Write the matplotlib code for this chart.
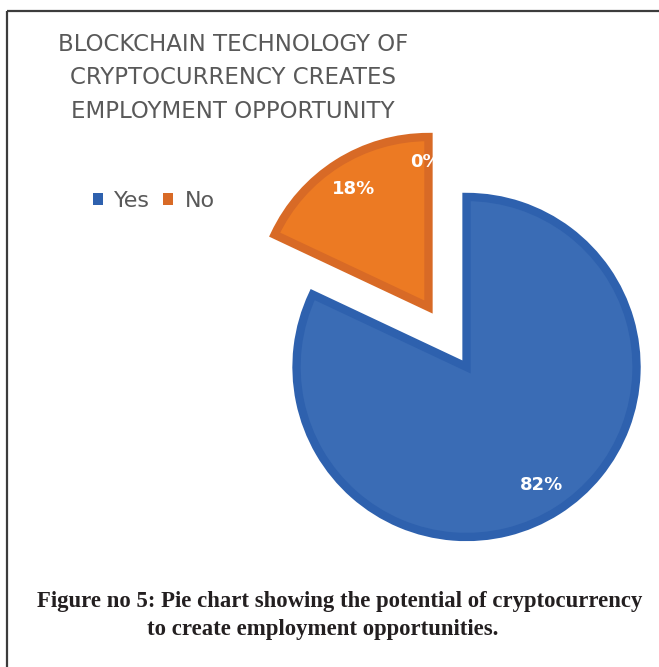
import matplotlib.pyplot as plt
from matplotlib.patches import Patch, Rectangle

categories = ["Yes", "No", ""]
shares = [82, 18, 0]
slice_colors = ["#3A6CB5", "#EC7A23", "#A5A5A5"]
edge_colors = ["#2E61AE", "#D86A26", "#A5A5A5"]

title = "BLOCKCHAIN TECHNOLOGY OF\nCRYPTOCURRENCY CREATES\nEMPLOYMENT OPPORTUNITY"
caption_1 = "Figure no 5: Pie chart showing the potential of cryptocurrency"
caption_2 = "to create employment opportunities."

W, H = 659, 667
fig = plt.figure(figsize=(W / 100, H / 100), dpi=100)
fig.patch.set_facecolor("white")

# axes in pixel units so the pie can sit anywhere on the page
ax = fig.add_axes([0, 0, 1, 1])
ax.axis("off")

cx, cy, r = 447.5, H - 337, 170
lw = 6
wedges, _, pct = ax.pie(
    shares, center=(cx, cy), radius=r, startangle=90, counterclock=False,
    explode=[35.5, 35.5, 35.5], colors=slice_colors,
    autopct="%1.0f%%", pctdistance=0.82,
    wedgeprops=dict(linewidth=lw, joinstyle="miter"),
    textprops=dict(color="white", fontsize=13, fontweight="bold",
                   family="DejaVu Sans"))
for w, ec in zip(wedges, edge_colors):
    w.set_edgecolor(ec)
wedges[2].set_visible(False)

# the empty slice label sits on the edge of the orange slice and is cut off
# where it runs past it (agg ignores clip paths on text, so mask it instead)
zero = pct[2]
zx, zy = zero.get_position()
zero.set_x(zx - 22)
edge_x = wedges[1].center[0] + lw * 100 / 72 / 2
ax.add_patch(Rectangle((edge_x, zy - 12), 30, 24, facecolor="white",
                       edgecolor="none", zorder=zero.get_zorder() + 1))

ax.set_xlim(0, W)
ax.set_ylim(0, H)
ax.set_aspect("equal")

# frame lines on the left and top
ax.plot([7, 7], [0, H - 11], color="#3c3c3c", lw=1.6, solid_capstyle="butt")
ax.plot([7, W], [H - 11, H - 11], color="#3c3c3c", lw=1.6, solid_capstyle="butt")

fig.text(233 / W, 1 - 78 / H, title, ha="center", va="center",
         fontsize=16.5, color="#595959", linespacing=1.6, family="DejaVu Sans")

handles = [Patch(facecolor=edge_colors[i], edgecolor="none") for i in range(2)]
fig.legend(handles, categories[:2], loc="center left",
           bbox_to_anchor=(93 / W, 1 - 201 / H), ncol=2, frameon=False,
           fontsize=16, labelcolor="#595959", handlelength=0.45,
           handleheight=0.45, handletextpad=0.5, columnspacing=0.6,
           borderpad=0, borderaxespad=0)

fig.text(340 / W, 1 - 601 / H, caption_1, ha="center", va="center",
         fontsize=16.4, fontweight="bold", color="#231f20",
         family="Liberation Serif")
fig.text(323 / W, 1 - 629 / H, caption_2, ha="center", va="center",
         fontsize=16.4, fontweight="bold", color="#231f20",
         family="Liberation Serif")

fig.savefig("out.png", dpi=100)
